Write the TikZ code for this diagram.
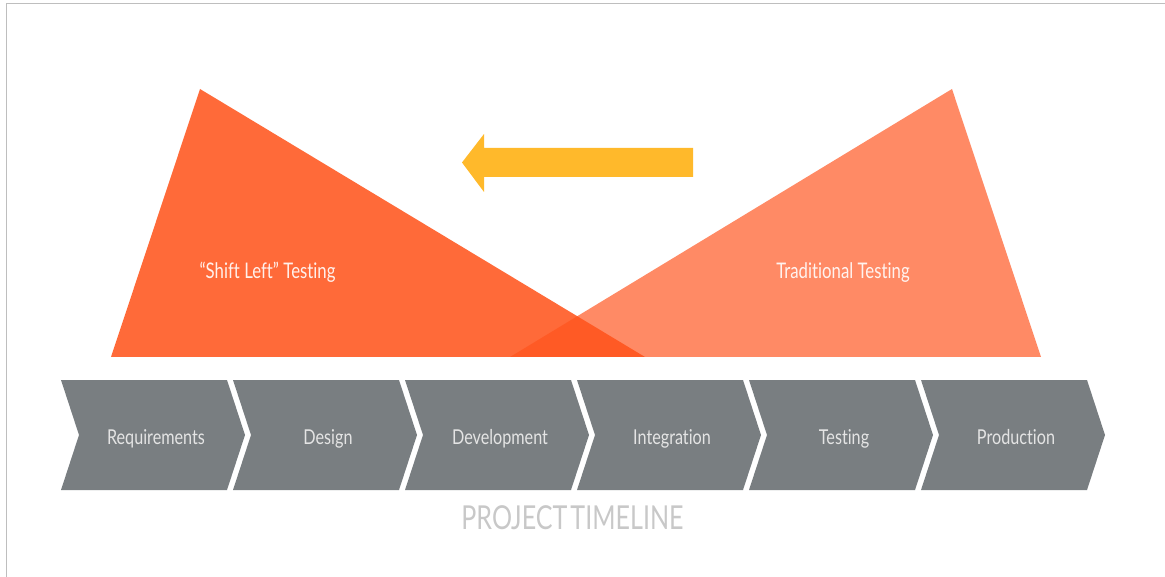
\documentclass[tikz,border=0pt]{standalone}
\usepackage{fontspec}
\setmainfont[Ligatures=CommonOff]{Lato}

\definecolor{shiftleft}{RGB}{255,84,28}
\definecolor{traditional}{RGB}{255,138,101}
\definecolor{shiftarrow}{RGB}{255,185,43}
\definecolor{stage}{RGB}{121,126,129}
\definecolor{stagetext}{RGB}{228,228,228}
\definecolor{timeline}{RGB}{200,200,200}
\definecolor{frameline}{RGB}{190,190,190}

\begin{document}
\begin{tikzpicture}[x=1pt,y=-1pt,
    stagelabel/.style={text=stagetext,anchor=base,xscale=0.79,font=\fontsize{20.5}{24}\selectfont},
    testlabel/.style={text=white,text opacity=0.9,anchor=base,xscale=0.78,font=\fontsize{21.5}{25}\selectfont}]
      \useasboundingbox (0,0) rectangle (1165,577);
      \draw[frameline,line width=1.5pt] (6.5,577) -- (6.5,3.5) -- (1165,3.5);

      %%%%%%%%%%%%%%%%%%%%%%%%%%%%%%%%%%%%%%%%%%%%%%%%%%%%%%%%%%%%%%%%%%%%%%%%%%%
      %%%%  Triangles
      \fill[traditional] (952,89) -- (1041,357) -- (510,357) -- cycle;
      \fill[shiftleft,opacity=0.87] (200,89) -- (645,357) -- (111,357) -- cycle;

      \node[testlabel] (shift) at (267.5,279) {“Shift Left” Testing};
      \node[testlabel] (trad) at (843,279) {Traditional Testing};

      %%%%%%%%%%%%%%%%%%%%%%%%%%%%%%%%%%%%%%%%%%%%%%%%%%%%%%%%%%%%%%%%%%%%%%%%%%%
      %%%%  Arrow
      \fill[shiftarrow] (693,148) -- (484,148) -- (484,134) -- (462,162.5)
        -- (484,192) -- (484,177) -- (693,177) -- cycle;

      %%%%%%%%%%%%%%%%%%%%%%%%%%%%%%%%%%%%%%%%%%%%%%%%%%%%%%%%%%%%%%%%%%%%%%%%%%%
      %%%%  Timeline
      \foreach \stagename [count=\i from 0] in
        {Requirements,Design,Development,Integration,Testing,Production}
       {\pgfmathsetmacro\xl{61 + 172*\i}
        \fill[stage] (\xl,380) -- ({\xl+166},380) -- ({\xl+184},435)
          -- ({\xl+166},490) -- (\xl,490) -- ({\xl+18},435) -- cycle;
        \node[stagelabel] (stage\i) at ({\xl+95},444) {\stagename};
       };

      \node[text=timeline,anchor=base,xscale=0.76,font=\fontsize{33}{38}\selectfont] (timeline)
        at (572.5,529) {PROJECT\hspace{0.12em}TIMELINE};
    \end{tikzpicture}
\end{document}
